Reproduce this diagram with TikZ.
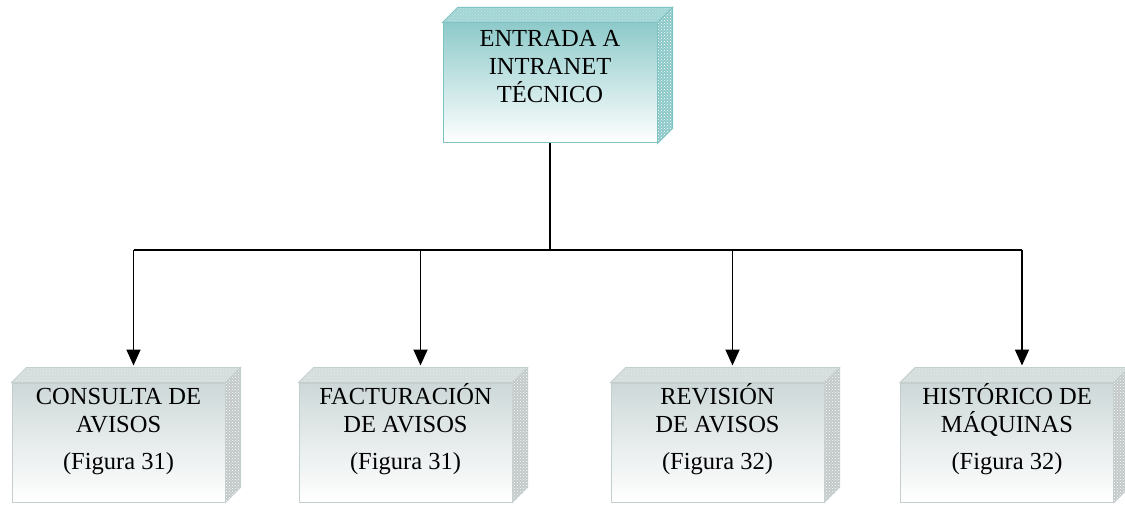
\documentclass[tikz,border=0pt]{standalone}
\usepackage{fontspec}
\setmainfont{Liberation Serif}
\usetikzlibrary{arrows.meta,patterns,positioning}
\definecolor{frontteal}{HTML}{8ECACA}
\definecolor{edgeteal}{HTML}{7EC2C2}
\definecolor{faceteal}{HTML}{A2D5D5}
\definecolor{sideteal}{HTML}{8CC8C8}
\definecolor{frontgrey}{HTML}{CED8D8}
\definecolor{edgegrey}{HTML}{C4CECE}
\definecolor{facegrey}{HTML}{D6DDDD}
\definecolor{sidegrey}{HTML}{C2C8C8}
\newcommand{\alto}{\rule{0pt}{23pt}}

\begin{document}
\begin{tikzpicture}[x=1pt,y=-1pt,
  front/.style={rectangle,minimum width=213pt,minimum height=119pt,inner sep=0pt,line width=1pt},
  entrada/.style={front,minimum width=214pt,minimum height=120pt,draw=edgeteal,top color=frontteal,bottom color=white},
  opcion/.style={front,draw=edgegrey,top color=frontgrey,bottom color=white},
  rotulo/.style={anchor=north,align=center,inner sep=0pt,font=\fontsize{24.5}{28}\selectfont},
  flecha/.style={-{Triangle[length=16pt,width=14pt]},line width=1.8pt,shorten >=2pt}]
\useasboundingbox (0,0) rectangle (1125,505);

% front faces
\node[entrada] (top) at (550,83) {};
\node[opcion] (c1) at (118.5,442.5) {};
\node[opcion] (c2) at (405.5,442.5) {};
\node[opcion] (c3) at (717.5,442.5) {};
\node[opcion] (c4) at (1007,442.5) {};

% top and right faces
\foreach \n/\c in {top/teal,c1/grey,c2/grey,c3/grey,c4/grey}{
  \filldraw[fill=face\c,draw=edge\c,line width=1pt]
    (\n.north west) -- ++(15pt,15pt) -- ([shift={(15pt,15pt)}]\n.north east) -- (\n.north east) -- cycle;
  \fill[pattern=crosshatch dots,pattern color=white,opacity=0.35]
    (\n.north west) -- ++(15pt,15pt) -- ([shift={(15pt,15pt)}]\n.north east) -- (\n.north east) -- cycle;
  \filldraw[fill=side\c,draw=edge\c,line width=1pt]
    (\n.north east) -- ++(15pt,15pt) -- ([shift={(15pt,15pt)}]\n.south east) -- (\n.south east) -- cycle;
  \fill[pattern=crosshatch dots,pattern color=white]
    (\n.north east) -- ++(15pt,15pt) -- ([shift={(15pt,15pt)}]\n.south east) -- (\n.south east) -- cycle;
  \coordinate (\n-top) at ([shift={(15pt,15pt)}]\n.north);
}

% texts
\node[rotulo] (t0) at ([yshift=-1pt]top.north) {\alto ENTRADA A\\INTRANET\\TÉCNICO};
\node[rotulo] (t1) at ([yshift=1pt]c1.north) {\alto CONSULTA DE\\AVISOS\\[9pt](Figura 31)};
\node[rotulo] (t2) at ([yshift=1pt]c2.north) {\alto FACTURACIÓN\\DE AVISOS\\[9pt](Figura 31)};
\node[rotulo] (t3) at ([yshift=1pt]c3.north) {\alto REVISIÓN\\DE AVISOS\\[9pt](Figura 32)};
\node[rotulo] (t4) at ([yshift=1pt]c4.north) {\alto HISTÓRICO DE\\MÁQUINAS\\[9pt](Figura 32)};

% connectors
\coordinate (bar) at (550,250);
\draw[line width=2.2pt] (top.south) -- (bar);
\draw[line width=1.8pt] (c1-top |- bar) -- (c4-top |- bar);
\foreach \n in {c1,c2,c3,c4}
  \draw[flecha] (\n-top |- bar) -- (\n-top);
\end{tikzpicture}
\end{document}
